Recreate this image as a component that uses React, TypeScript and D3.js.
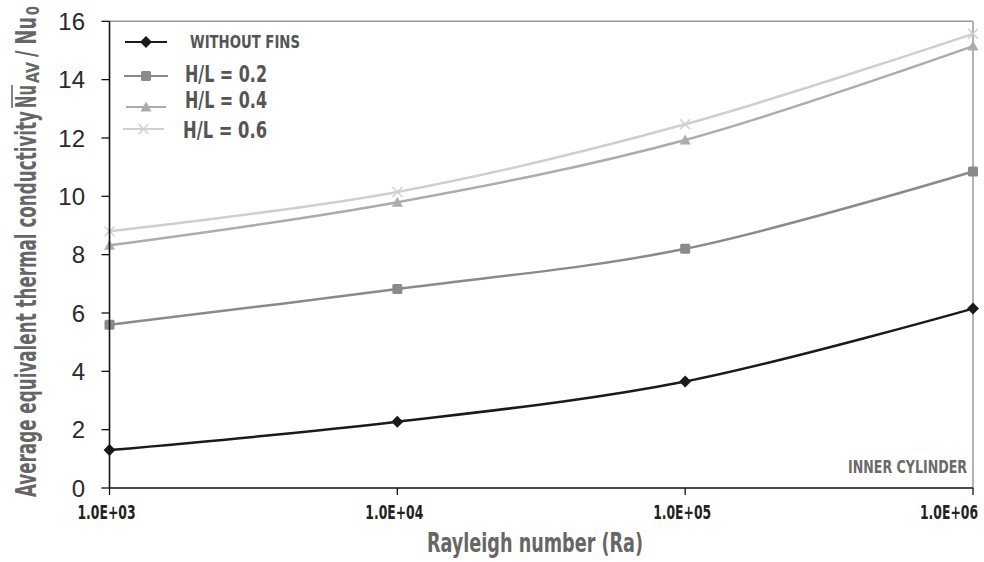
import React from "react";
import * as d3 from "d3";

const rayleigh = [1e3, 1e4, 1e5, 1e6];
const xTickLabels = ["1.0E+03", "1.0E+04", "1.0E+05", "1.0E+06"];
const yTicks = [0, 2, 4, 6, 8, 10, 12, 14, 16];
const withoutFins = [1.3, 2.27, 3.65, 6.15];
const hl02 = [5.6, 6.82, 8.2, 10.85];
const hl04 = [8.32, 9.8, 11.93, 15.15];
const hl06 = [8.8, 10.15, 12.47, 15.57];
const seriesNames = ["WITHOUT FINS", "H/L = 0.2", "H/L = 0.4", "H/L = 0.6"];

const W = 984, H = 562;
const m = { left: 109.5, right: 973, top: 21.3, bottom: 488 };
const condensed = "'DejaVu Sans Condensed', 'DejaVu Sans', sans-serif";
const titleColor = "#666";

export default function App() {
  const x = d3.scaleLog().domain([1e3, 1e6]).range([m.left, m.right]);
  const y = d3.scaleLinear().domain([0, 16]).range([m.bottom, m.top]);
  const line = d3.line<number>().x((_, i) => x(rayleigh[i])).y((d) => y(d)).curve(d3.curveCatmullRom.alpha(0));

  const series = [
    { name: seriesNames[0], values: withoutFins, color: "#1a1a1a", marker: "diamond" },
    { name: seriesNames[1], values: hl02, color: "#8a8a8a", marker: "square" },
    { name: seriesNames[2], values: hl04, color: "#acacac", marker: "triangle" },
    { name: seriesNames[3], values: hl06, color: "#cfcfcf", marker: "x" },
  ];

  const marker = (type: string, cx: number, cy: number, color: string, key: string) => {
    if (type === "diamond") return <path key={key} d={`M${cx},${cy - 6}L${cx + 6},${cy}L${cx},${cy + 6}L${cx - 6},${cy}Z`} fill={color} />;
    if (type === "square") return <rect key={key} x={cx - 5} y={cy - 5} width={10} height={10} rx={1.5} fill={color} />;
    if (type === "triangle") return <path key={key} d={`M${cx},${cy - 5.5}L${cx + 5.5},${cy + 4.5}L${cx - 5.5},${cy + 4.5}Z`} fill={color} />;
    return <path key={key} d={`M${cx - 5},${cy - 5}L${cx + 5},${cy + 5}M${cx - 5},${cy + 5}L${cx + 5},${cy - 5}`} stroke={color} strokeWidth={1.4} fill="none" />;
  };

  const legendRows = [
    { ly: 42, base: 48, tx: 190, size: 17, len: 110, lx1: 125, lx2: 167 },
    { ly: 76, base: 82, tx: 185, size: 23, len: 82, lx1: 124, lx2: 168 },
    { ly: 107, base: 108, tx: 185, size: 23, len: 82, lx1: 126, lx2: 166 },
    { ly: 129, base: 138, tx: 183, size: 23, len: 84, lx1: 123, lx2: 164 },
  ];

  return (
    <svg width={W} height={H} style={{ position: "absolute", left: 0, top: 0, background: "#fff" }}>
      {/* frame */}
      <line x1={m.left} x2={m.right} y1={m.top} y2={m.top} stroke="#9a9a9a" strokeWidth={1.5} />
      <line x1={m.right} x2={m.right} y1={m.top} y2={m.bottom} stroke="#9a9a9a" strokeWidth={1.5} />

      {/* series */}
      {series.map((s, si) => (
        <g key={s.name}>
          <path d={line(s.values) || ""} fill="none" stroke={s.color} strokeWidth={2.5} />
          {s.values.map((v, i) => marker(s.marker, x(rayleigh[i]), y(v), s.color, `${si}-${i}`))}
        </g>
      ))}

      {/* axes */}
      <line x1={m.left} x2={m.left} y1={m.top} y2={m.bottom} stroke="#111" strokeWidth={1.6} />
      <line x1={m.left} x2={m.right} y1={m.bottom} y2={m.bottom} stroke="#111" strokeWidth={1.6} />
      {yTicks.map((t) => (
        <g key={t}>
          <line x1={m.left - 8} x2={m.left} y1={y(t)} y2={y(t)} stroke="#111" strokeWidth={1.3} />
          <text x={85} y={y(t)} dy="0.36em" textAnchor="end" fontFamily="'Liberation Sans', Arial, sans-serif" fontSize={24} fill="#2a2a2a">{t}</text>
        </g>
      ))}
      {rayleigh.map((r, i) => {
        const cx = Math.min(x(r) - 3, 978 - 29);
        return (
          <g key={r}>
            <line x1={x(r)} x2={x(r)} y1={m.bottom} y2={m.bottom + 7} stroke="#111" strokeWidth={1.3} />
            <text x={cx - 29} y={519} textLength={58} lengthAdjust="spacingAndGlyphs" fontFamily={condensed} fontWeight="bold" fontSize={20} fill="#222">{xTickLabels[i]}</text>
          </g>
        );
      })}

      {/* axis titles */}
      <text x={427} y={552} textLength={216} lengthAdjust="spacingAndGlyphs" fontFamily={condensed} fontWeight="bold" fontSize={27} fill={titleColor}>Rayleigh number (Ra)</text>
      <g transform="translate(36,497) rotate(-90)" fontFamily={condensed} fontWeight="bold" fill={titleColor}>
        <text x={0} y={0} textLength={386} lengthAdjust="spacingAndGlyphs" fontSize={28}>Average equivalent thermal conductivity</text>
        <text x={389} y={0} textLength={23} lengthAdjust="spacingAndGlyphs" fontSize={28}>Nu</text>
        <line x1={389} x2={412} y1={-24} y2={-24} stroke={titleColor} strokeWidth={1.6} />
        <text x={414} y={3} textLength={21} lengthAdjust="spacingAndGlyphs" fontSize={17}>AV</text>
        <text x={440} y={0} textLength={40} lengthAdjust="spacingAndGlyphs" fontSize={28}>/ Nu</text>
        <text x={482} y={3} textLength={9} lengthAdjust="spacingAndGlyphs" fontSize={17}>0</text>
      </g>

      {/* annotation */}
      <text x={848} y={473} textLength={119} lengthAdjust="spacingAndGlyphs" fontFamily={condensed} fontWeight="bold" fontSize={17} fill="#6a6a6a">INNER CYLINDER</text>

      {/* legend */}
      {series.map((s, i) => {
        const r = legendRows[i];
        return (
          <g key={`lg-${s.name}`}>
            <line x1={r.lx1} x2={r.lx2} y1={r.ly} y2={r.ly} stroke={s.color} strokeWidth={2} />
            {marker(s.marker, (r.lx1 + r.lx2) / 2, r.ly, s.color, `lgm-${i}`)}
            <text x={r.tx} y={r.base} textLength={r.len} lengthAdjust="spacingAndGlyphs" fontFamily={condensed} fontWeight="bold" fontSize={r.size} fill="#555">{s.name}</text>
          </g>
        );
      })}
    </svg>
  );
}
